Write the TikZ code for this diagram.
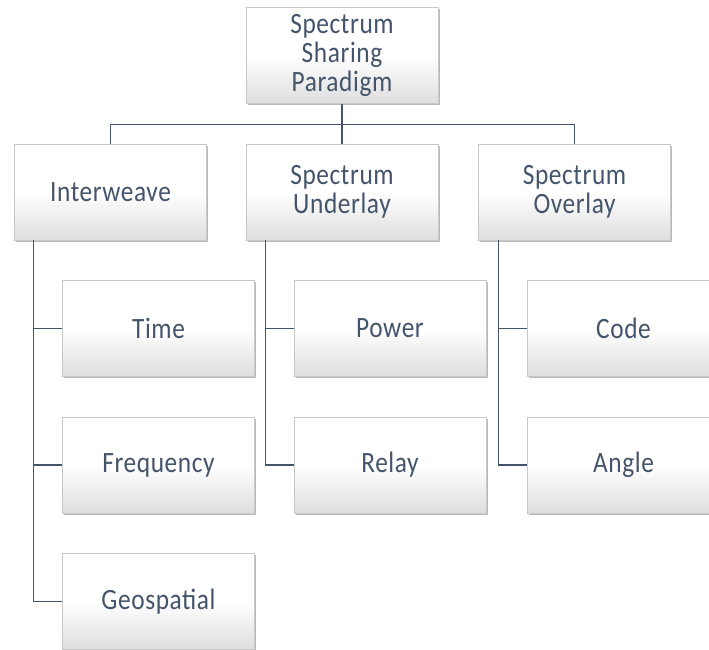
\documentclass[tikz,border=0pt]{standalone}
\usepackage{fontspec}
\setmainfont{Carlito}[FakeStretch=0.86,LetterSpace=2]
\usetikzlibrary{shadows}
\definecolor{txt}{HTML}{44546A}
\definecolor{ln}{HTML}{44546A}
\definecolor{bd}{HTML}{C8C8C8}
\tikzset{
  box/.style={draw=bd, line width=0.6pt, top color=white, bottom color=black!13, middle color=white,
    minimum width=192pt, minimum height=96pt, inner sep=0pt, align=center,
    text=txt, font=\fontsize{29.5}{29}\selectfont,
    drop shadow={shadow xshift=1.5pt, shadow yshift=-1.8pt, fill=black!45, opacity=0.6}},
  conn/.style={draw=ln, line width=1.3pt}
}
\begin{document}
\begin{tikzpicture}[x=1pt,y=-1pt]
\useasboundingbox (0,0) rectangle (709,649);
\node[box] (top) at (342,55.5) {Spectrum\\Sharing\\Paradigm};
\node[box] (inter) at (110.5,192) {Interweave};
\node[box] (under) at (342,192) {Spectrum\\Underlay};
\node[box] (over) at (574.5,192) {Spectrum\\Overlay};
\node[box] (time) at (158.5,328.5) {Time};
\node[box] (freq) at (158.5,465) {Frequency};
\node[box] (geo) at (158.5,601.5) {Geospatial};
\node[box] (power) at (390,328.5) {Power};
\node[box] (relay) at (390,465) {Relay};
\node[box] (code) at (623.5,328.5) {Code};
\node[box] (angle) at (623.5,465) {Angle};
\draw[conn] (top.south) -- (under.north);
\draw[conn] (top.south) ++(0,21) -| (inter.north);
\draw[conn] (top.south) ++(0,21) -| (over.north);
\coordinate (ia) at ([xshift=19pt]inter.south west);
\coordinate (ua) at ([xshift=20pt]under.south west);
\coordinate (oa) at ([xshift=20pt]over.south west);
\draw[conn] (ia) |- (geo.west);
\draw[conn] (ia |- time.west) -- (time.west);
\draw[conn] (ia |- freq.west) -- (freq.west);
\draw[conn] (ua) |- (relay.west);
\draw[conn] (ua |- power.west) -- (power.west);
\draw[conn] (oa) |- (angle.west);
\draw[conn] (oa |- code.west) -- (code.west);
\end{tikzpicture}
\end{document}
